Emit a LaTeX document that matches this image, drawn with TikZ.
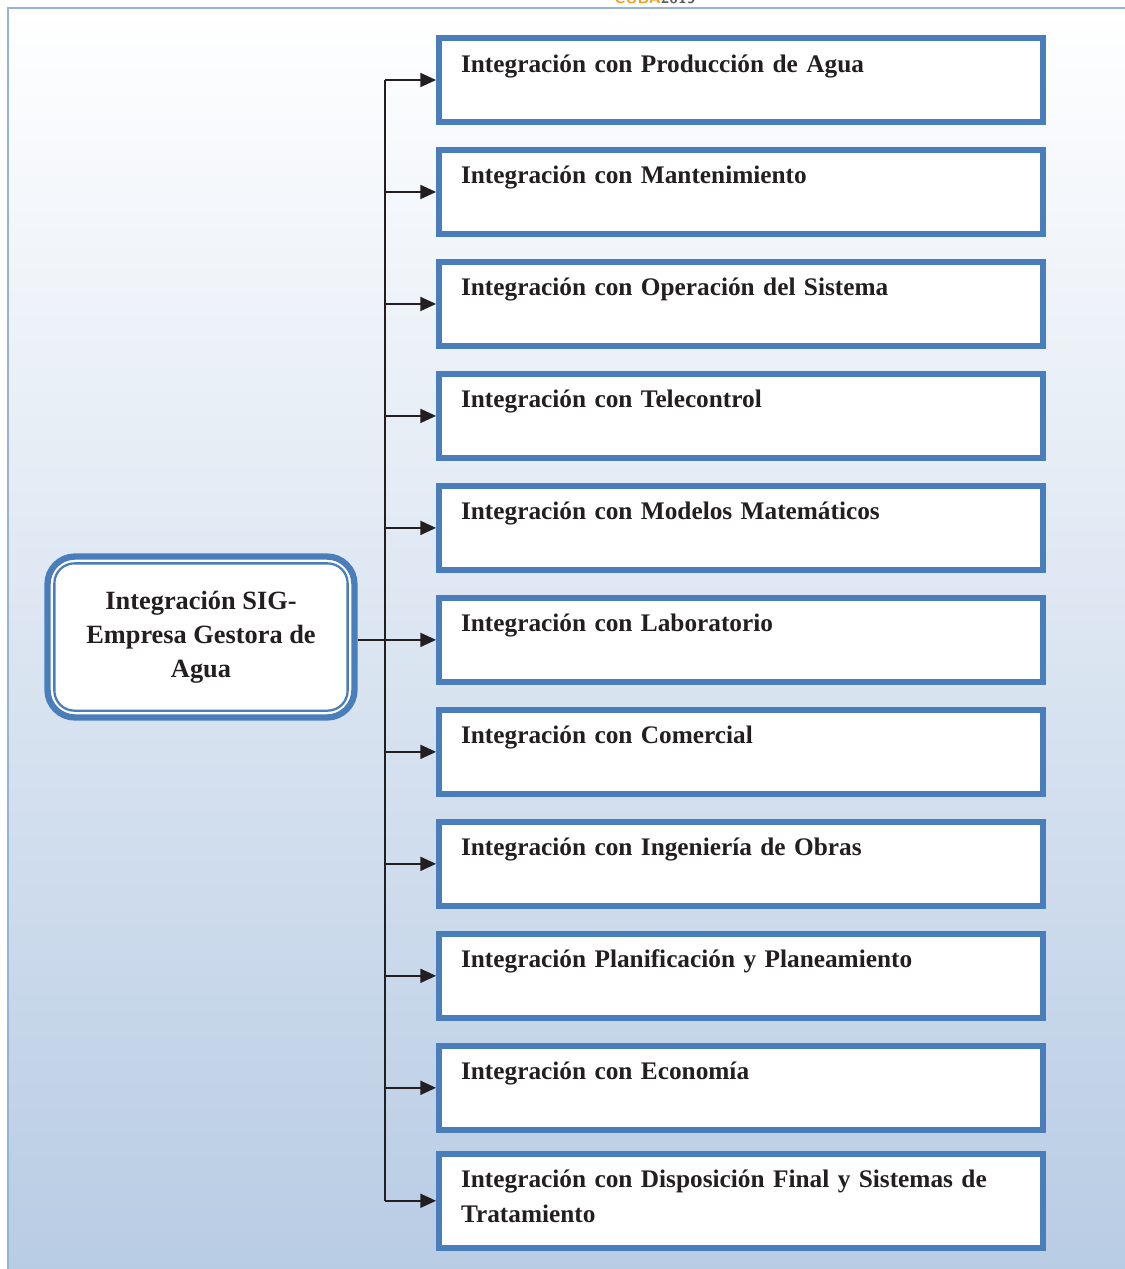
\documentclass[tikz,border=0pt]{standalone}
\usepackage{fontspec}
\setmainfont{Liberation Serif}
\usetikzlibrary{arrows.meta}
\definecolor{boxblue}{RGB}{74,126,187}
\definecolor{frameblue}{RGB}{149,179,215}
\definecolor{bgblue}{RGB}{184,204,228}
\definecolor{inkblack}{RGB}{35,31,32}
\definecolor{hdrorange}{RGB}{236,160,40}
\definecolor{hdrgray}{RGB}{90,90,90}
\begin{document}
\begin{tikzpicture}[x=0.02cm, y=-0.02cm,
  intbox/.style={rectangle, draw=boxblue, fill=white, line width=3.4pt, inner xsep=0.44cm, inner ysep=0pt,
    text width=11.2cm, align=left, text height=0.68cm, text depth=1.0cm,
    font=\bfseries\fontsize{14.4}{19.8}\selectfont, text=inkblack},
  hubbox/.style={rectangle, rounded corners=0.55cm, draw=boxblue, fill=white, line width=3.6pt,
    minimum width=6.14cm, minimum height=3.22cm, align=center,
    font=\bfseries\fontsize{15}{19.3}\selectfont, text=inkblack},
  link/.style={-{Triangle[length=9pt,width=8pt]}, line width=1.1pt, draw=inkblack},
  node distance=2.24cm
]
\useasboundingbox (0,0) rectangle (1125,1269);
% page background and frame
\shade[top color=white, bottom color=bgblue] (8,8) rectangle (1125,1269);
\draw[frameblue, line width=1.4pt] (8,1269) -- (8,8) -- (1125,8);
\node[font=\sffamily\bfseries\small, anchor=base] (hdr) at (655,3) {\textcolor{hdrorange}{CUBA}\textcolor{hdrgray}{2019}};

\node[hubbox] (hub) at (201,637) {Integración SIG-\\Empresa Gestora de\\Agua};
\draw[boxblue, line width=1.3pt, rounded corners=0.4cm]
  ([shift={(0.2cm,0.2cm)}]hub.south west) rectangle ([shift={(-0.2cm,-0.2cm)}]hub.north east);

\node[intbox] (prod) at (741,80) {Integración con Producción de Agua};
\node[intbox, below of=prod] (mant) {Integración con Mantenimiento};
\node[intbox, below of=mant] (oper) {Integración con Operación del Sistema};
\node[intbox, below of=oper] (tele) {Integración con Telecontrol};
\node[intbox, below of=tele] (model) {Integración con Modelos Matemáticos};
\node[intbox, below of=model] (lab) {Integración con Laboratorio};
\node[intbox, below of=lab] (comer) {Integración con Comercial};
\node[intbox, below of=comer] (ing) {Integración con Ingeniería de Obras};
\node[intbox, below of=ing] (plan) {Integración Planificación y Planeamiento};
\node[intbox, below of=plan] (econ) {Integración con Economía};
\node[intbox, below of=econ, node distance=2.26cm, text depth=1.2cm] (disp) {Integración con Disposición Final y Sistemas de Tratamiento};

\coordinate (trunk) at (385,640);
\draw[line width=1.1pt, inkblack] (trunk |- prod.west) -- (trunk |- disp.west);
\draw[link] (hub.east |- lab.west) -- (lab.west);
\draw[link] (trunk |- prod.west) -- (prod.west);
\draw[link] (trunk |- mant.west) -- (mant.west);
\draw[link] (trunk |- oper.west) -- (oper.west);
\draw[link] (trunk |- tele.west) -- (tele.west);
\draw[link] (trunk |- model.west) -- (model.west);
\draw[link] (trunk |- comer.west) -- (comer.west);
\draw[link] (trunk |- ing.west) -- (ing.west);
\draw[link] (trunk |- plan.west) -- (plan.west);
\draw[link] (trunk |- econ.west) -- (econ.west);
\draw[link] (trunk |- disp.west) -- (disp.west);
\end{tikzpicture}
\end{document}
